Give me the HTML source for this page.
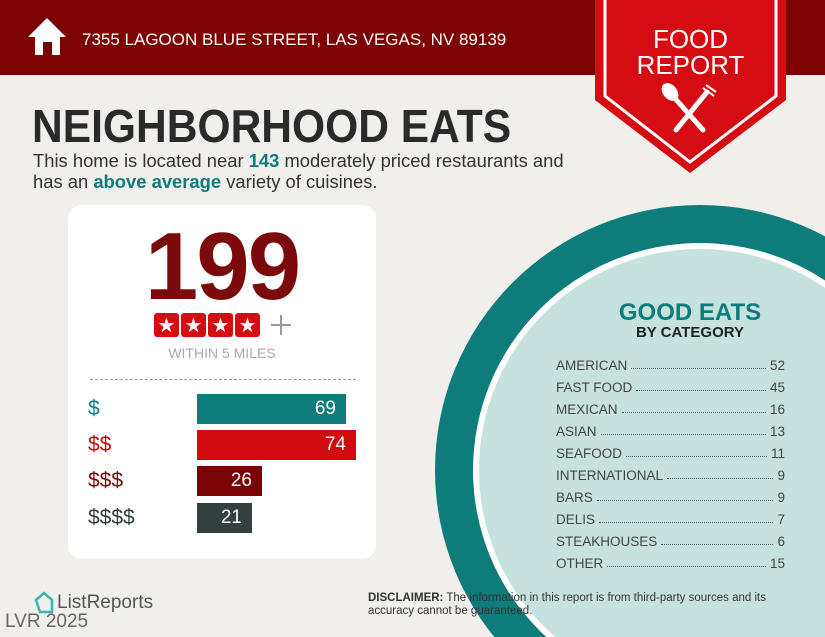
<!DOCTYPE html>
<html><head><meta charset="utf-8"><style>
*{margin:0;padding:0;box-sizing:border-box}
html,body{width:825px;height:637px;overflow:hidden}
body{background:#f1efec;font-family:"Liberation Sans",sans-serif;position:relative}
.abs{position:absolute}
.hdr{left:0;top:0;width:825px;height:75px;background:#7c0204}
.addr{left:82px;top:30px;color:#fff;font-size:17px;white-space:nowrap}
.title{left:32px;top:99px;font-size:46px;font-weight:bold;color:#2a2a2a;white-space:nowrap;transform:scaleX(0.925);transform-origin:0 0}
.sub{left:33px;top:150px;font-size:18.4px;color:#333;line-height:21px;white-space:nowrap}
.sub b{color:#0e7c7b}
.card{left:68px;top:205px;width:308px;height:354px;background:#fff;border-radius:14px}
.big{left:68px;width:308px;top:212px;text-align:center;font-size:96px;font-weight:bold;color:#7c0a0c;letter-spacing:-2px}
.within{left:68px;width:308px;top:345px;text-align:center;font-size:14px;color:#aaa}
.dash{left:90px;top:379px;width:266px;border-top:1px dashed #999}
.lab{left:88px;font-size:21px}
.bar{left:197px;height:30px;color:#fff;font-size:19px;text-align:right;padding-right:10px;line-height:30px}
.cat{left:556px;width:229px;font-size:13.5px;color:#444;display:flex;white-space:nowrap}
.cat .d{flex:1;border-bottom:1px dotted #555;margin:0 4px 4px;}
</style></head><body>
<svg class="abs" style="left:0;top:0" width="825" height="637">
<circle cx="700" cy="470" r="265" fill="#0e7c7b"/>
<circle cx="700" cy="470" r="227" fill="#fff"/>
<circle cx="700" cy="470" r="221" fill="#c6e2df"/>
</svg>
<div class="abs hdr"></div>
<svg class="abs" style="left:0;top:0" width="825" height="200">
<polygon points="28,37 47,18 66,37 60,37 60,55 35,55 35,37" fill="#fff"/>
<rect x="43" y="42" width="9" height="13" fill="#7c0204"/>
<polygon points="595,0 786,0 786,100 690,173 595,100" fill="#d50d12"/>
<polyline points="605,0 605,96 690,162 776,96 776,0" fill="none" stroke="#fff" stroke-width="3"/>
<g stroke="#fff" stroke-width="5" stroke-linecap="round">
<line x1="672" y1="95" x2="703" y2="130"/><line x1="707" y1="92" x2="676" y2="130"/>
</g>
<ellipse cx="670" cy="92" rx="7" ry="10" fill="#fff" transform="rotate(-40 670 92)"/>
<g stroke="#fff" stroke-width="2"><line x1="703" y1="88" x2="714" y2="96"/><line x1="706" y1="85" x2="716" y2="92"/></g>
</svg>
<div class="abs" style="left:595px;width:191px;top:26px;text-align:center;color:#fff;font-size:26px;line-height:26px">FOOD<br>REPORT</div>
<div class="abs addr">7355 LAGOON BLUE STREET, LAS VEGAS, NV 89139</div>
<div class="abs title">NEIGHBORHOOD EATS</div>
<div class="abs sub">This home is located near <b>143</b> moderately priced restaurants and<br>has an <b>above average</b> variety of cuisines.</div>
<div class="abs card"></div>
<div class="abs big">199</div>
<svg class="abs" style="left:152px;top:311px" width="145" height="28">
<g fill="#d50d12"><rect x="2" y="2" width="25" height="24" rx="3"/><rect x="29" y="2" width="25" height="24" rx="3"/><rect x="56" y="2" width="25" height="24" rx="3"/><rect x="83" y="2" width="25" height="24" rx="3"/></g>
<g fill="#fff" font-size="20" text-anchor="middle"><text x="14.5" y="21">★</text><text x="41.5" y="21">★</text><text x="68.5" y="21">★</text><text x="95.5" y="21">★</text></g>
<g stroke="#999" stroke-width="2"><line x1="119" y1="14" x2="139" y2="14"/><line x1="129" y1="4" x2="129" y2="24"/></g>
</svg>
<div class="abs within">WITHIN 5 MILES</div>
<div class="abs dash"></div>
<div class="abs lab" style="top:397px;color:#0e7c7b">$</div>
<div class="abs lab" style="top:433px;color:#c5090e">$$</div>
<div class="abs lab" style="top:469px;color:#7c0a0c">$$$</div>
<div class="abs lab" style="top:506px;color:#333d3d">$$$$</div>
<div class="abs bar" style="top:394px;width:149px;background:#0e7c7b">69</div>
<div class="abs bar" style="top:430px;width:159px;background:#d10a0f">74</div>
<div class="abs bar" style="top:466px;width:65px;background:#7a0405">26</div>
<div class="abs bar" style="top:503px;width:55px;background:#343f3f">21</div>
<div class="abs" style="left:560px;width:260px;top:299px;text-align:center;font-size:24px;font-weight:bold;color:#0e7c7b">GOOD EATS</div>
<div class="abs" style="left:560px;width:260px;top:324px;text-align:center;font-size:15px;font-weight:bold;color:#222">BY CATEGORY</div>
<div class="abs cat" style="top:358px"><span>AMERICAN</span><span class="d"></span><span>52</span></div>
<div class="abs cat" style="top:380px"><span>FAST FOOD</span><span class="d"></span><span>45</span></div>
<div class="abs cat" style="top:402px"><span>MEXICAN</span><span class="d"></span><span>16</span></div>
<div class="abs cat" style="top:424px"><span>ASIAN</span><span class="d"></span><span>13</span></div>
<div class="abs cat" style="top:446px"><span>SEAFOOD</span><span class="d"></span><span>11</span></div>
<div class="abs cat" style="top:468px"><span>INTERNATIONAL</span><span class="d"></span><span>9</span></div>
<div class="abs cat" style="top:490px"><span>BARS</span><span class="d"></span><span>9</span></div>
<div class="abs cat" style="top:512px"><span>DELIS</span><span class="d"></span><span>7</span></div>
<div class="abs cat" style="top:534px"><span>STEAKHOUSES</span><span class="d"></span><span>6</span></div>
<div class="abs cat" style="top:556px"><span>OTHER</span><span class="d"></span><span>15</span></div>
<div class="abs" style="left:368px;top:592px;font-size:11.5px;color:#333;line-height:13px;white-space:nowrap"><b>DISCLAIMER:</b> The information in this report is from third-party sources and its<br>accuracy cannot be guaranteed.</div>
<svg class="abs" style="left:32px;top:590px" width="24" height="26"><path d="M4 10 L12 3 L20 10 L20 22 L8 22 Z" fill="none" stroke="#3bb6b4" stroke-width="2.5"/></svg>
<div class="abs" style="left:57px;top:592px;font-size:19px;color:#555">ListReports</div>
<div class="abs" style="left:5px;top:611px;font-size:19px;color:#666;line-height:22px">LVR 2025</div>
</body></html>
